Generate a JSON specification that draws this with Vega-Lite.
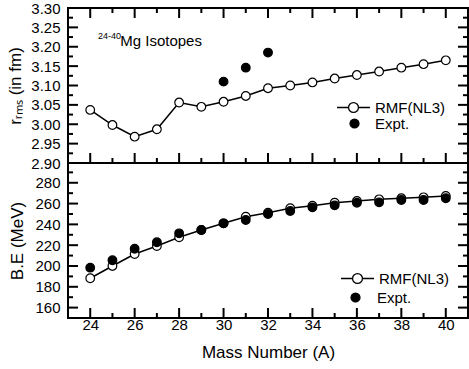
{
  "$schema": "https://vega.github.io/schema/vega-lite/v6.json",
  "background": "white",
  "padding": {"left": 5, "top": 0, "right": 0, "bottom": 0},
  "spacing": 0,
  "bounds": "flush",
  "config": {
    "font": "Liberation Sans",
    "view": {"stroke": "black", "strokeWidth": 2},
    "axis": {
      "domain": false,
      "ticks": false,
      "grid": false,
      "labelFont": "Liberation Sans",
      "labelFontSize": 15,
      "labelColor": "black",
      "labelOverlap": false,
      "labelFlush": false,
      "titleFont": "Liberation Sans",
      "titleFontSize": 17,
      "titleFontWeight": "normal",
      "titleColor": "black"
    },
    "legend": {
      "labelFont": "Liberation Sans",
      "labelFontSize": 15,
      "labelColor": "black",
      "symbolStrokeColor": "black",
      "symbolStrokeWidth": 1.3,
      "padding": 0,
      "title": null
    }
  },
  "datasets": {
    "rms": [
      {"A": 24, "r": 3.037, "series": "RMF(NL3)"},
      {"A": 25, "r": 2.998, "series": "RMF(NL3)"},
      {"A": 26, "r": 2.968, "series": "RMF(NL3)"},
      {"A": 27, "r": 2.987, "series": "RMF(NL3)"},
      {"A": 28, "r": 3.056, "series": "RMF(NL3)"},
      {"A": 29, "r": 3.045, "series": "RMF(NL3)"},
      {"A": 30, "r": 3.058, "series": "RMF(NL3)"},
      {"A": 31, "r": 3.073, "series": "RMF(NL3)"},
      {"A": 32, "r": 3.093, "series": "RMF(NL3)"},
      {"A": 33, "r": 3.100, "series": "RMF(NL3)"},
      {"A": 34, "r": 3.108, "series": "RMF(NL3)"},
      {"A": 35, "r": 3.118, "series": "RMF(NL3)"},
      {"A": 36, "r": 3.127, "series": "RMF(NL3)"},
      {"A": 37, "r": 3.136, "series": "RMF(NL3)"},
      {"A": 38, "r": 3.146, "series": "RMF(NL3)"},
      {"A": 39, "r": 3.155, "series": "RMF(NL3)"},
      {"A": 40, "r": 3.165, "series": "RMF(NL3)"},
      {"A": 30, "r": 3.110, "series": "Expt."},
      {"A": 31, "r": 3.146, "series": "Expt."},
      {"A": 32, "r": 3.185, "series": "Expt."}
    ],
    "be": [
      {"A": 24, "E": 188.2, "series": "RMF(NL3)"},
      {"A": 25, "E": 200.0, "series": "RMF(NL3)"},
      {"A": 26, "E": 211.5, "series": "RMF(NL3)"},
      {"A": 27, "E": 219.2, "series": "RMF(NL3)"},
      {"A": 28, "E": 227.6, "series": "RMF(NL3)"},
      {"A": 29, "E": 234.6, "series": "RMF(NL3)"},
      {"A": 30, "E": 241.0, "series": "RMF(NL3)"},
      {"A": 31, "E": 247.4, "series": "RMF(NL3)"},
      {"A": 32, "E": 251.2, "series": "RMF(NL3)"},
      {"A": 33, "E": 255.5, "series": "RMF(NL3)"},
      {"A": 34, "E": 258.0, "series": "RMF(NL3)"},
      {"A": 35, "E": 260.8, "series": "RMF(NL3)"},
      {"A": 36, "E": 262.5, "series": "RMF(NL3)"},
      {"A": 37, "E": 264.1, "series": "RMF(NL3)"},
      {"A": 38, "E": 265.1, "series": "RMF(NL3)"},
      {"A": 39, "E": 266.0, "series": "RMF(NL3)"},
      {"A": 40, "E": 267.3, "series": "RMF(NL3)"},
      {"A": 24, "E": 198.4, "series": "Expt."},
      {"A": 25, "E": 205.5, "series": "Expt."},
      {"A": 26, "E": 216.6, "series": "Expt."},
      {"A": 27, "E": 222.8, "series": "Expt."},
      {"A": 28, "E": 231.4, "series": "Expt."},
      {"A": 29, "E": 234.6, "series": "Expt."},
      {"A": 30, "E": 241.0, "series": "Expt."},
      {"A": 31, "E": 244.2, "series": "Expt."},
      {"A": 32, "E": 250.0, "series": "Expt."},
      {"A": 33, "E": 252.9, "series": "Expt."},
      {"A": 34, "E": 256.4, "series": "Expt."},
      {"A": 35, "E": 258.3, "series": "Expt."},
      {"A": 36, "E": 260.8, "series": "Expt."},
      {"A": 37, "E": 261.2, "series": "Expt."},
      {"A": 38, "E": 263.4, "series": "Expt."},
      {"A": 39, "E": 263.4, "series": "Expt."},
      {"A": 40, "E": 265.1, "series": "Expt."}
    ],
    "xmaj": [{"v": 24}, {"v": 26}, {"v": 28}, {"v": 30}, {"v": 32}, {"v": 34}, {"v": 36}, {"v": 38}, {"v": 40}],
    "xmin": [{"v": 25}, {"v": 27}, {"v": 29}, {"v": 31}, {"v": 33}, {"v": 35}, {"v": 37}, {"v": 39}],
    "rmaj": [{"v": 2.95}, {"v": 3.0}, {"v": 3.05}, {"v": 3.1}, {"v": 3.15}, {"v": 3.2}, {"v": 3.25}],
    "rmin": [{"v": 2.925}, {"v": 2.975}, {"v": 3.025}, {"v": 3.075}, {"v": 3.125}, {"v": 3.175}, {"v": 3.225}, {"v": 3.275}],
    "emaj": [{"v": 160}, {"v": 180}, {"v": 200}, {"v": 220}, {"v": 240}, {"v": 260}, {"v": 280}],
    "emin": [{"v": 170}, {"v": 190}, {"v": 210}, {"v": 230}, {"v": 250}, {"v": 270}, {"v": 290}]
  },
  "resolve": {"scale": {"fill": "independent", "stroke": "independent"}, "legend": {"fill": "independent", "stroke": "independent"}},
  "vconcat": [
    {
      "width": 400,
      "height": 155,
      "resolve": {"axis": {"x": "independent", "y": "independent"}},
      "layer": [
        {
          "data": {"name": "rms"},
          "transform": [{"filter": "datum.series === 'RMF(NL3)'"}],
          "mark": {"type": "line", "strokeWidth": 1.5},
          "encoding": {
            "x": {"field": "A", "type": "quantitative",
              "scale": {"domain": [23, 41], "nice": false, "zero": false},
              "axis": null},
            "y": {"field": "r", "type": "quantitative",
              "scale": {"domain": [2.9, 3.3], "nice": false, "zero": false},
              "axis": {"orient": "left", "title": "rᵣₘₛ (in fm)", "titlePadding": 6,
                "values": [2.9,2.95,3.0,3.05,3.1,3.15,3.2,3.25,3.3],
                "format": ".2f",
                "labelPadding": 8}},
            "stroke": {"field": "series", "type": "nominal",
              "scale": {"domain": ["RMF(NL3)"], "range": ["black"]},
              "legend": {"orient": "none", "legendX": 268, "legendY": 82, "symbolSize": 1089, "labelOffset": 4, "symbolFillColor": "white",
                "symbolType": "M-1,0L-0.3,0M0.3,0L1,0M0.3,0C0.3,0.1657,0.1657,0.3,0,0.3C-0.1657,0.3,-0.3,0.1657,-0.3,0C-0.3,-0.1657,-0.1657,-0.3,0,-0.3C0.1657,-0.3,0.3,-0.1657,0.3,0Z"}}
          }
        },
        {"data": {"name": "rmaj"}, "mark": {"type": "rule", "color": "black", "strokeWidth": 2},
         "encoding": {"y": {"field": "v", "type": "quantitative", "axis": null}, "x": {"datum": 23, "type": "quantitative", "axis": null}, "x2": {"datum": 23.45}}},
        {"data": {"name": "rmin"}, "mark": {"type": "rule", "color": "black", "strokeWidth": 2},
         "encoding": {"y": {"field": "v", "type": "quantitative", "axis": null}, "x": {"datum": 23, "type": "quantitative", "axis": null}, "x2": {"datum": 23.225}}},
        {"data": {"name": "rmaj"}, "mark": {"type": "rule", "color": "black", "strokeWidth": 2},
         "encoding": {"y": {"field": "v", "type": "quantitative", "axis": null}, "x": {"datum": 41, "type": "quantitative", "axis": null}, "x2": {"datum": 40.55}}},
        {"data": {"name": "rmin"}, "mark": {"type": "rule", "color": "black", "strokeWidth": 2},
         "encoding": {"y": {"field": "v", "type": "quantitative", "axis": null}, "x": {"datum": 41, "type": "quantitative", "axis": null}, "x2": {"datum": 40.775}}},
        {"data": {"name": "xmaj"}, "mark": {"type": "rule", "color": "black", "strokeWidth": 2},
         "encoding": {"x": {"field": "v", "type": "quantitative", "axis": null}, "y": {"datum": 2.9, "type": "quantitative", "axis": null}, "y2": {"datum": 2.9258}}},
        {"data": {"name": "xmin"}, "mark": {"type": "rule", "color": "black", "strokeWidth": 2},
         "encoding": {"x": {"field": "v", "type": "quantitative", "axis": null}, "y": {"datum": 2.9, "type": "quantitative", "axis": null}, "y2": {"datum": 2.9129}}},
        {"data": {"name": "xmaj"}, "mark": {"type": "rule", "color": "black", "strokeWidth": 2},
         "encoding": {"x": {"field": "v", "type": "quantitative", "axis": null}, "y": {"datum": 3.3, "type": "quantitative", "axis": null}, "y2": {"datum": 3.2742}}},
        {"data": {"name": "xmin"}, "mark": {"type": "rule", "color": "black", "strokeWidth": 2},
         "encoding": {"x": {"field": "v", "type": "quantitative", "axis": null}, "y": {"datum": 3.3, "type": "quantitative", "axis": null}, "y2": {"datum": 3.2871}}},
        {
          "data": {"name": "rms"},
          "mark": {"type": "point", "filled": true, "size": 75, "stroke": "black", "strokeWidth": 1.2, "opacity": 1},
          "encoding": {
            "x": {"field": "A", "type": "quantitative", "axis": null},
            "y": {"field": "r", "type": "quantitative", "axis": null},
            "fill": {"field": "series", "type": "nominal",
              "scale": {"domain": ["RMF(NL3)", "Expt."], "range": ["white", "black"]},
              "legend": {"orient": "none", "legendX": 279, "legendY": 108, "values": ["Expt."], "symbolSize": 80, "labelOffset": 13}}
          }
        },
        {
          "data": {"values": [{"A": 24.35, "r": 3.2198}]},
          "mark": {"type": "text", "text": "24-40", "fontSize": 9, "align": "left", "baseline": "alphabetic", "font": "Liberation Sans", "color": "black"},
          "encoding": {
            "x": {"field": "A", "type": "quantitative", "axis": null},
            "y": {"field": "r", "type": "quantitative", "axis": null}
          }
        },
        {
          "data": {"values": [{"A": 25.35, "r": 3.2026}]},
          "mark": {"type": "text", "text": "Mg Isotopes", "fontSize": 15, "align": "left", "baseline": "alphabetic", "font": "Liberation Sans", "color": "black"},
          "encoding": {
            "x": {"field": "A", "type": "quantitative", "axis": null},
            "y": {"field": "r", "type": "quantitative", "axis": null}
          }
        }
      ]
    },
    {
      "width": 400,
      "height": 155,
      "resolve": {"axis": {"x": "independent", "y": "independent"}},
      "layer": [
        {
          "data": {"name": "be"},
          "transform": [{"filter": "datum.series === 'RMF(NL3)'"}],
          "mark": {"type": "line", "strokeWidth": 1.5},
          "encoding": {
            "x": {"field": "A", "type": "quantitative",
              "scale": {"domain": [23, 41], "nice": false, "zero": false},
              "axis": {"orient": "bottom", "title": "Mass Number (A)", "titlePadding": 12,
                "values": [24,26,28,30,32,34,36,38,40],
                "labelPadding": -1}},
            "y": {"field": "E", "type": "quantitative",
              "scale": {"domain": [150, 299], "nice": false, "zero": false},
              "axis": {"orient": "left", "title": "B.E (MeV)", "titlePadding": 8,
                "values": [160,180,200,220,240,260,280],
                "labelPadding": 8}},
            "stroke": {"field": "series", "type": "nominal",
              "scale": {"domain": ["RMF(NL3)"], "range": ["black"]},
              "legend": {"orient": "none", "legendX": 272, "legendY": 98, "symbolSize": 1089, "labelOffset": 4, "symbolFillColor": "white",
                "symbolType": "M-1,0L-0.3,0M0.3,0L1,0M0.3,0C0.3,0.1657,0.1657,0.3,0,0.3C-0.1657,0.3,-0.3,0.1657,-0.3,0C-0.3,-0.1657,-0.1657,-0.3,0,-0.3C0.1657,-0.3,0.3,-0.1657,0.3,0Z"}}
          }
        },
        {"data": {"name": "emaj"}, "mark": {"type": "rule", "color": "black", "strokeWidth": 2},
         "encoding": {"y": {"field": "v", "type": "quantitative", "axis": null}, "x": {"datum": 23, "type": "quantitative", "axis": null}, "x2": {"datum": 23.45}}},
        {"data": {"name": "emin"}, "mark": {"type": "rule", "color": "black", "strokeWidth": 2},
         "encoding": {"y": {"field": "v", "type": "quantitative", "axis": null}, "x": {"datum": 23, "type": "quantitative", "axis": null}, "x2": {"datum": 23.225}}},
        {"data": {"name": "emaj"}, "mark": {"type": "rule", "color": "black", "strokeWidth": 2},
         "encoding": {"y": {"field": "v", "type": "quantitative", "axis": null}, "x": {"datum": 41, "type": "quantitative", "axis": null}, "x2": {"datum": 40.55}}},
        {"data": {"name": "emin"}, "mark": {"type": "rule", "color": "black", "strokeWidth": 2},
         "encoding": {"y": {"field": "v", "type": "quantitative", "axis": null}, "x": {"datum": 41, "type": "quantitative", "axis": null}, "x2": {"datum": 40.775}}},
        {"data": {"name": "xmaj"}, "mark": {"type": "rule", "color": "black", "strokeWidth": 2},
         "encoding": {"x": {"field": "v", "type": "quantitative", "axis": null}, "y": {"datum": 150, "type": "quantitative", "axis": null}, "y2": {"datum": 159.6}}},
        {"data": {"name": "xmin"}, "mark": {"type": "rule", "color": "black", "strokeWidth": 2},
         "encoding": {"x": {"field": "v", "type": "quantitative", "axis": null}, "y": {"datum": 150, "type": "quantitative", "axis": null}, "y2": {"datum": 154.8}}},
        {
          "data": {"name": "be"},
          "mark": {"type": "point", "filled": true, "size": 75, "stroke": "black", "strokeWidth": 1.2, "opacity": 1},
          "encoding": {
            "x": {"field": "A", "type": "quantitative", "axis": null},
            "y": {"field": "E", "type": "quantitative", "axis": null},
            "fill": {"field": "series", "type": "nominal",
              "scale": {"domain": ["RMF(NL3)", "Expt."], "range": ["white", "black"]},
              "legend": {"orient": "none", "legendX": 280, "legendY": 127, "values": ["Expt."], "symbolSize": 80, "labelOffset": 14}}
          }
        }
      ]
    }
  ]
}
